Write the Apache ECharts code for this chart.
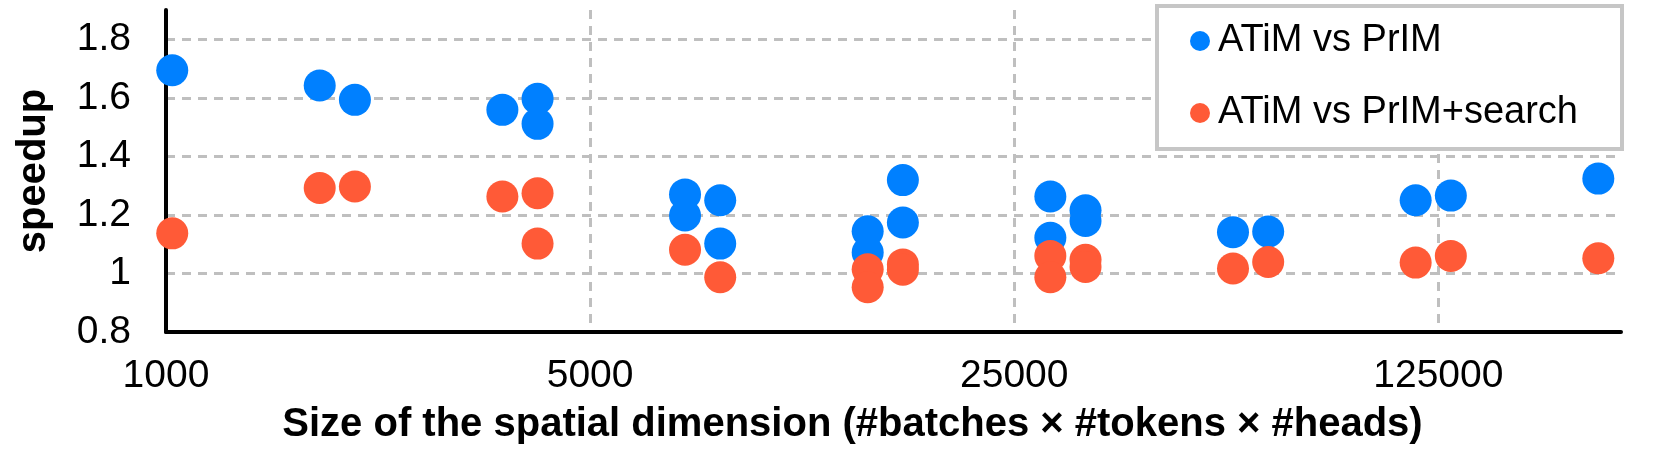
<!DOCTYPE html>
<html>
<head>
<meta charset="utf-8">
<script src="https://cdn.jsdelivr.net/npm/echarts@6/dist/echarts.min.js"></script>
<style>
  html, body { margin: 0; padding: 0; background: #ffffff; }
  #chart { width: 1661px; height: 450px; }
</style>
</head>
<body>
<div id="chart"></div>
<script>
// ---- data ----
const sizes = [1024, 1792, 2048, 3584, 4096, 7168, 8192, 14336, 16384, 28672, 32768, 57344, 65536, 114688, 131072, 229376];
const primRun1   = [1.694, 1.642, 1.593, 1.559, 1.597, 1.270, 1.250, 1.144, 1.319, 1.263, 1.216, 1.141, 1.143, 1.250, 1.266, 1.324];
const primRun2   = [null,  null,  null,  null,  1.511, 1.198, 1.102, 1.072, 1.174, 1.122, 1.179, null,  null,  null,  null,  null];
const searchRun1 = [1.137, 1.292, 1.297, 1.263, 1.274, 1.081, 0.987, 1.014, 1.031, 1.060, 1.047, 1.017, 1.039, 1.037, 1.060, 1.052];
const searchRun2 = [null,  null,  null,  null,  1.102, null,  null,  0.953, 1.013, 0.987, 1.022, null,  null,  null,  null,  null];
const seriesNames = ['ATiM vs PrIM', 'ATiM vs PrIM+search'];
const xTickBase = 1000;   // tick labels: 1000, 5000, 25000, 125000 (log base 5)
const xLogBase = 5;
const xMaxSize = 250000;
const yTicks = { min: 0.8, max: 1.9, interval: 0.2 };

// log-5 position of a size relative to 1000
const toLog = s => Math.log(s / xTickBase) / Math.log(xLogBase);
function pts(runs) {
  const out = [];
  runs.forEach(run => run.forEach((v, i) => { if (v != null) out.push([toLog(sizes[i]), v]); }));
  return out;
}

const FONT = '"Liberation Sans", Arial, Helvetica, sans-serif';
const gridLine = { color: '#bfbfbf', width: 3, type: [9, 7] };

const chart = echarts.init(document.getElementById('chart'), null, { renderer: 'canvas' });
chart.setOption({
  animation: false,
  backgroundColor: '#ffffff',
  grid: { left: 166, right: 40, top: 10, bottom: 109, containLabel: false },
  legend: {
    data: seriesNames,
    orient: 'vertical',
    left: 1157,
    top: 6,
    padding: [16, 44, 17, 33],
    itemGap: 34,
    itemWidth: 26,
    itemHeight: 20,
    icon: 'circle',
    backgroundColor: '#ffffff',
    borderColor: '#c6c6c6',
    borderWidth: 4,
    textStyle: { fontFamily: FONT, fontSize: 38, color: '#000000' }
  },
  xAxis: {
    type: 'value',
    min: 0,
    max: toLog(xMaxSize),
    interval: 1,
    name: 'Size of the spatial dimension (#batches \u00d7 #tokens \u00d7 #heads)',
    nameLocation: 'middle',
    nameGap: 73,
    nameTextStyle: { fontFamily: FONT, fontSize: 40, fontWeight: 'bold', color: '#000000', padding: [0, 82, 0, 0] },
    axisLine: { onZero: false, lineStyle: { color: '#000000', width: 4 } },
    axisTick: { show: false },
    axisLabel: {
      showMaxLabel: false,
      margin: 25,
      fontFamily: FONT, fontSize: 39, color: '#000000',
      formatter: v => Math.abs(v - Math.round(v)) < 1e-6 ? String(Math.round(xTickBase * Math.pow(xLogBase, Math.round(v)))) : ''
    },
    splitLine: { show: true, showMinLine: false, showMaxLine: false, lineStyle: gridLine }
  },
  yAxis: {
    type: 'value',
    min: yTicks.min,
    max: yTicks.max,
    interval: yTicks.interval,
    name: 'speedup',
    nameLocation: 'middle',
    nameGap: 112,
    nameTextStyle: { fontFamily: FONT, fontSize: 40, fontWeight: 'bold', color: '#000000' },
    axisLine: { show: true, onZero: false, lineStyle: { color: '#000000', width: 4 } },
    axisTick: { show: false },
    axisLabel: {
      showMaxLabel: false,
      margin: 35,
      fontFamily: FONT, fontSize: 39, color: '#000000',
      formatter: v => String(Math.round(v * 10) / 10)
    },
    splitLine: { show: true, showMinLine: false, showMaxLine: false, lineStyle: gridLine }
  },
  series: [
    {
      name: seriesNames[0], type: 'scatter', symbol: 'circle', symbolSize: 32,
      itemStyle: { color: '#0080ff', opacity: 1 },
      data: pts([primRun1, primRun2])
    },
    {
      name: seriesNames[1], type: 'scatter', symbol: 'circle', symbolSize: 32,
      itemStyle: { color: '#ff5a37', opacity: 1 },
      data: pts([searchRun1, searchRun2])
    }
  ]
});
</script>
</body>
</html>
